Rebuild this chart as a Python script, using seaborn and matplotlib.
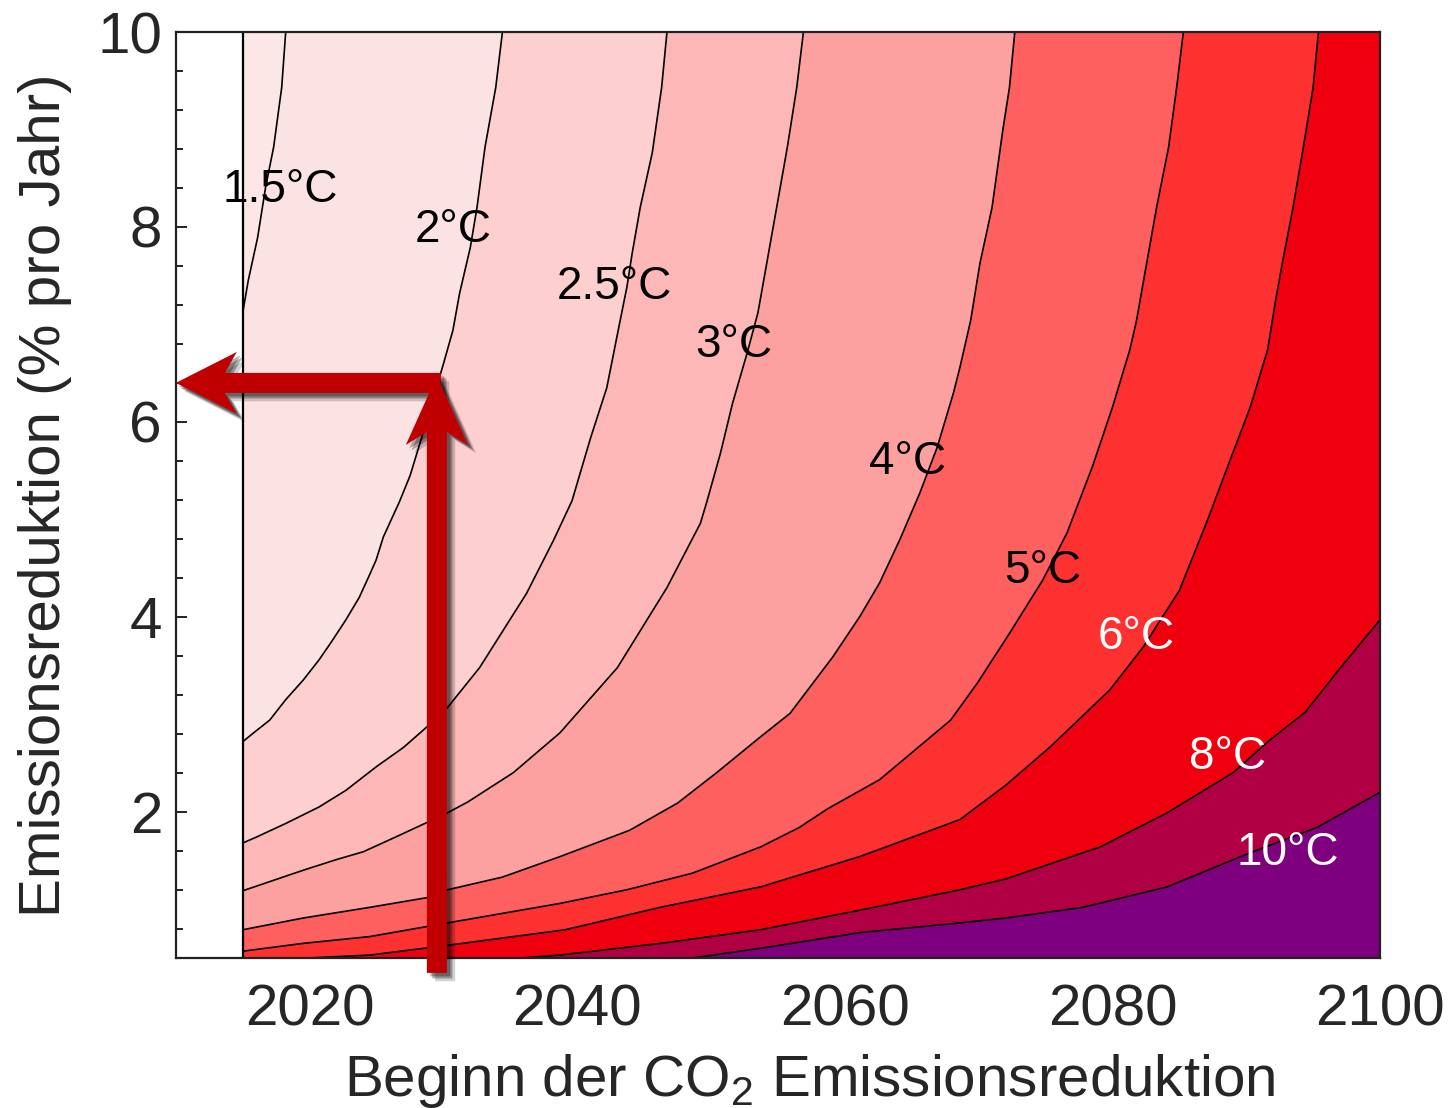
import matplotlib
matplotlib.use("Agg")
import matplotlib.pyplot as plt
import matplotlib.patheffects as pe
from matplotlib.patches import Polygon
from matplotlib.transforms import IdentityTransform
from matplotlib.ticker import MultipleLocator, FixedLocator
import seaborn as sns

# ---------------- data ----------------
start_year = 2015
x_limits = (2010, 2100)
y_limits = (0.5, 10)
x_ticks = [2020, 2040, 2060, 2080, 2100]
y_ticks = [2, 4, 6, 8, 10]

levels = [1.5, 2, 2.5, 3, 4, 5, 6, 8, 10]
level_labels = ["1.5°C", "2°C", "2.5°C", "3°C", "4°C", "5°C", "6°C", "8°C", "10°C"]
band_colors = ["#fde6e6", "#fce3e3", "#fdcfcf", "#fdb7b7", "#fca0a0",
               "#fe5f5f", "#fe3131", "#f0000f", "#b00043", "#7e007e"]
label_colors = ["black"] * 6 + ["white"] * 3
label_years = [2017.8, 2030.7, 2042.8, 2051.7, 2064.7, 2074.8, 2081.8, 2088.6, 2093.1]
label_rates = [8.38, 7.97, 7.38, 6.79, 5.59, 4.47, 3.79, 2.56, 1.58]

# contour lines: (start year, reduction rate)
c15_year = [2018.2, 2017.9, 2017.3, 2016.7, 2016.1, 2015.4, 2015.0]
c15_rate = [10.0, 9.43, 8.82, 8.41, 7.89, 7.45, 7.13]

c20_year = [2034.4, 2033.9, 2033.1, 2032.5, 2032.0, 2031.2, 2030.7, 2030.0, 2028.5,
            2027.5, 2026.7, 2025.5, 2024.95, 2024.4, 2023.7, 2022.7, 2021.7, 2020.7,
            2019.5, 2018.2, 2017.0, 2015.8, 2015.0]
c20_rate = [10.0, 9.43, 8.82, 8.20, 7.79, 7.32, 6.94, 6.60, 5.90,
            5.45, 5.18, 4.82, 4.58, 4.41, 4.20, 3.97, 3.76, 3.56,
            3.35, 3.15, 2.94, 2.81, 2.72]

c25_year = [2046.7, 2046.3, 2045.6, 2044.7, 2044.1, 2043.7, 2043.2, 2042.2, 2041.0, 2039.6,
            2038.2, 2036.2, 2032.7, 2030.3, 2028.5, 2027.0, 2024.95, 2022.7, 2020.7,
            2018.2, 2016.0, 2015.0]
c25_rate = [10.0, 9.43, 8.76, 8.20, 7.73, 7.38, 7.04, 6.35, 5.84, 5.19,
            4.78, 4.24, 3.48, 3.07, 2.84, 2.66, 2.46, 2.22, 2.05,
            1.88, 1.74, 1.68]

c30_year = [2056.9, 2056.4, 2055.7, 2054.9, 2054.2, 2053.5, 2052.7, 2051.6, 2050.7, 2049.7, 2049.2,
            2046.7, 2043.0, 2038.7, 2035.2, 2031.8, 2030.3, 2028.6, 2026.4, 2024.0, 2022.0,
            2019.5, 2015.0]
c30_rate = [10.0, 9.43, 8.82, 8.20, 7.66, 7.12, 6.71, 6.19, 5.68, 5.19, 4.96,
            4.30, 3.48, 2.81, 2.40, 2.10, 1.99, 1.88, 1.74, 1.59, 1.51,
            1.40, 1.19]

c40_year = [2072.7, 2072.3, 2071.8, 2071.0, 2070.1, 2069.4, 2068.6, 2068.1, 2066.9, 2065.6, 2064.1,
            2062.6, 2061.1, 2059.1, 2055.9, 2053.7, 2050.4, 2047.5, 2043.9, 2038.7, 2034.4, 2030.3,
            2028.8, 2024.5, 2019.5, 2015.0]
c40_rate = [10.0, 9.43, 8.99, 8.20, 7.63, 7.04, 6.56, 6.29, 5.74, 5.27, 4.79,
            4.35, 4.00, 3.59, 3.01, 2.77, 2.40, 2.09, 1.81, 1.54, 1.33, 1.20,
            1.12, 1.02, 0.91, 0.79]

c50_year = [2085.3, 2084.8, 2084.2, 2083.3, 2082.6, 2081.8, 2081.3, 2080.0, 2078.5, 2076.6, 2074.8,
            2072.3, 2069.9, 2067.9, 2062.6, 2058.7, 2056.6, 2053.7, 2048.6, 2043.7, 2038.7, 2030.3,
            2024.5, 2019.5, 2015.0]
c50_rate = [10.0, 9.43, 8.82, 8.20, 7.66, 7.04, 6.74, 6.15, 5.54, 4.86, 4.38,
            3.83, 3.32, 2.94, 2.33, 2.03, 1.84, 1.64, 1.37, 1.20, 1.06, 0.86,
            0.72, 0.65, 0.57]

c60_year = [2095.4, 2095.0, 2094.2, 2093.5, 2092.7, 2092.2, 2091.6, 2090.3, 2088.8, 2087.1, 2085.0,
            2083.6, 2082.3, 2079.8, 2075.3, 2072.0, 2068.6, 2061.1, 2053.7, 2046.2, 2039.1, 2030.3,
            2024.5, 2019.9]
c60_rate = [10.0, 9.43, 8.76, 8.20, 7.63, 7.25, 6.74, 6.15, 5.61, 4.99, 4.27,
            3.97, 3.69, 3.25, 2.66, 2.27, 1.92, 1.54, 1.23, 1.02, 0.79, 0.63,
            0.53, 0.50]

c80_year = [2100.0, 2097.0, 2094.4, 2091.8, 2089.0, 2084.1, 2079.1, 2072.0, 2068.6, 2061.1,
            2053.7, 2046.2, 2038.7, 2035.9]
c80_rate = [3.97, 3.47, 3.02, 2.74, 2.40, 1.99, 1.64, 1.31, 1.20, 0.99,
            0.79, 0.65, 0.53, 0.50]

c100_year = [2100.0, 2095.3, 2090.3, 2084.1, 2077.8, 2072.0, 2068.6, 2061.1, 2053.7, 2048.6]
c100_rate = [2.20, 1.84, 1.58, 1.23, 1.02, 0.91, 0.86, 0.76, 0.60, 0.50]

# annotation arrow: start year 2030 -> needed reduction rate
arrow_year = 2029.5
arrow_rate = 6.4

x_label = "Beginn der CO$_2$ Emissionsreduktion"
y_label = "Emissionsreduktion (% pro Jahr)"

# ---------------- style ----------------
sns.set_theme(style="ticks")
plt.rcParams["font.family"] = ["Liberation Sans", "DejaVu Sans"]
plt.rcParams["mathtext.fontset"] = "custom"
plt.rcParams["mathtext.rm"] = "Liberation Sans"
plt.rcParams["mathtext.it"] = "Liberation Sans:italic"
plt.rcParams["mathtext.bf"] = "Liberation Sans:bold"

W, H = 1449, 1108
fig = plt.figure(figsize=(W / 100, H / 100), dpi=100)
fig.patch.set_facecolor("white")
ax = fig.add_axes([176 / W, 1 - 958 / H, 1204 / W, 926 / H])
ax.set_facecolor("white")
ax.set_xlim(*x_limits)
ax.set_ylim(*y_limits)

lines_year = [c15_year, c20_year, c25_year, c30_year, c40_year,
              c50_year, c60_year, c80_year, c100_year]
lines_rate = [c15_rate, c20_rate, c25_rate, c30_rate, c40_rate,
              c50_rate, c60_rate, c80_rate, c100_rate]

x0, x1 = start_year, x_limits[1]
y0, y1 = y_limits

# base band (below the first level)
ax.fill([x0, x1, x1, x0], [y0, y0, y1, y1], color=band_colors[0], lw=0, zorder=1)

# each higher band: region right/below of its contour line
for i, (xs, ys) in enumerate(zip(lines_year, lines_rate)):
    px = list(xs) + [x0, x1, x1]
    py = list(ys) + [y0, y0, y1]
    ax.fill(px, py, color=band_colors[i + 1], lw=0, zorder=1 + i * 0.01)

# contour lines
for xs, ys in zip(lines_year, lines_rate):
    sns.lineplot(x=xs, y=ys, sort=False, estimator=None, color="black",
                 lw=1.2, ax=ax, zorder=3)

ax.axvline(start_year, color="black", lw=1.6, zorder=3)

# contour labels
for lab, lx, ly, lc in zip(level_labels, label_years, label_rates, label_colors):
    ax.text(lx, ly, lab, fontsize=33, color=lc, ha="center", va="center", zorder=5)

# axes / ticks
for s in ax.spines.values():
    s.set_color("#222222")
    s.set_linewidth(1.6)
    s.set_zorder(6)
ax.xaxis.set_major_locator(FixedLocator(x_ticks))
ax.yaxis.set_major_locator(FixedLocator(y_ticks))
ax.yaxis.set_minor_locator(MultipleLocator(0.4))
ax.tick_params(axis="both", which="both", direction="in", top=True, right=True,
               color="#222222", width=1.4)
ax.tick_params(axis="both", which="major", length=8, labelsize=42)
ax.tick_params(axis="y", which="minor", length=5)
ax.tick_params(axis="x", which="major", pad=18)
ax.tick_params(axis="y", which="major", pad=10)
ax.set_xticklabels([str(t) for t in x_ticks])
ax.set_yticklabels([str(t) for t in y_ticks])

ax.set_xlabel(x_label, fontsize=42)
ax.set_ylabel(y_label, fontsize=42)
ax.xaxis.set_label_coords(0.526, -0.101)
ax.yaxis.set_label_coords(-0.086, 0.50)

# ---------------- arrows (annotation) ----------------
ax_x, ax_y = ax.transData.transform((arrow_year, arrow_rate))
# offsets in image pixels (x right, y down) relative to the anchor
vert = [(0, -7), (31, 62), (10, 49), (10, 590), (-10, 590), (-10, 49), (-31, 62)]
horiz = [(-261, 0), (-200, -31), (-212, -10), (4, -10), (4, 10), (-212, 10), (-200, 31)]
shadow = [pe.SimplePatchShadow(offset=(6, -6), shadow_rgbFace="black", alpha=0.18),
          pe.SimplePatchShadow(offset=(4, -4), shadow_rgbFace="black", alpha=0.3),
          pe.SimplePatchShadow(offset=(2.5, -2.5), shadow_rgbFace="black", alpha=0.3),
          pe.Normal()]
for shape in (horiz, vert):
    pts = [(ax_x + dx, ax_y - dy) for dx, dy in shape]
    poly = Polygon(pts, closed=True, transform=IdentityTransform(),
                   facecolor="#c00000", edgecolor="none", clip_on=False, zorder=10)
    poly.set_path_effects(shadow)
    ax.add_patch(poly)

fig.savefig("out.png", dpi=100)
